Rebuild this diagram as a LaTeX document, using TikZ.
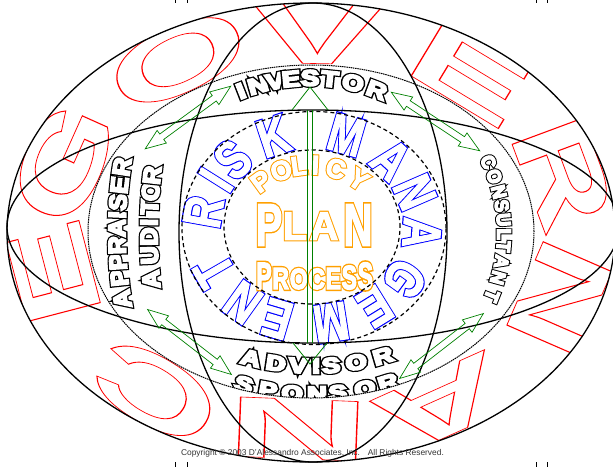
\documentclass[tikz,border=0pt]{standalone}
\usepackage{fontspec}
\setmainfont{Liberation Sans}
\usetikzlibrary{shapes.arrows,shapes.geometric}
\definecolor{gvred}{RGB}{255,0,0}
\definecolor{rmblue}{RGB}{0,0,255}
\definecolor{ppor}{RGB}{255,160,0}
\definecolor{arrgreen}{RGB}{0,128,0}
% thin outline
\newcommand\outl[2][0.6]{\special{pdf:literal direct 1 Tr #1 w}#2\special{pdf:literal direct 0 Tr}}
% heavy outline: wide stroke in the text colour, then a narrower white fill+stroke on top
\newcommand\hvy[3]{\rlap{\special{pdf:literal direct 1 Tr #1 w}#3\special{pdf:literal direct 0 Tr}}{\color{white}\special{pdf:literal direct 2 Tr #2 w}#3\special{pdf:literal direct 0 Tr}}}
% \ellchar[opts]{name}{cx}{cy}{rx}{ry}{t}{rot offset}{text}
\newcommand\ellchar[9][]{%
  \pgfmathsetmacro\gvX{#3+#5*cos(#7)}%
  \pgfmathsetmacro\gvY{#4-#6*sin(#7)}%
  \pgfmathsetmacro\gvR{atan2(#5*sin(#7),#6*cos(#7))+#8}%
  \node[rotate=\gvR,#1] (#2) at (\gvX,\gvY) {#9};}
\tikzset{
  ring/.style={draw, ellipse, inner sep=0pt, outer sep=0pt, line width=1.3pt},
  dotring/.style={draw, ellipse, inner sep=0pt, outer sep=0pt, line width=1pt, dash pattern=on 1.5pt off 0.7pt},
  dashring/.style={draw, ellipse, inner sep=0pt, outer sep=0pt, line width=1.2pt, dash pattern=on 4pt off 3pt},
  garrow/.style={double arrow, draw=arrgreen, line width=0.7pt, minimum height=106, inner xsep=0pt, inner ysep=3pt, double arrow head extend=4.5pt, double arrow tip angle=42},
  gline/.style={draw=arrgreen, line width=0.8pt},
  gvletter/.style={font=\fontsize{85}{85}\selectfont\bfseries, text=gvred, inner sep=0pt, anchor=base},
  rmletter/.style={font=\fontsize{54}{54}\selectfont\bfseries, text=rmblue, inner sep=0pt, anchor=center, xscale=0.78},
  polletter/.style={font=\fontsize{27}{27}\selectfont\bfseries, text=ppor, inner sep=0pt, anchor=center},
  planletter/.style={font=\fontsize{40}{40}\selectfont\bfseries, text=ppor, inner sep=0pt, anchor=center},
  procletter/.style={font=\fontsize{23}{23}\selectfont\bfseries, text=ppor, inner sep=0pt, anchor=base},
  invletter/.style={font=\fontsize{22}{22}\selectfont\bfseries, text=black, inner sep=0pt, anchor=center, xscale=1.25},
  advletter/.style={font=\fontsize{21}{21}\selectfont\bfseries, text=black, inner sep=0pt, anchor=center, xscale=1.3},
  sideletter/.style={font=\fontsize{24}{24}\selectfont\bfseries, text=black, inner sep=0pt, anchor=center, xscale=1.05},
  conletter/.style={font=\fontsize{19}{19}\selectfont\bfseries, text=black, inner sep=0pt, anchor=center, xscale=0.95},
  cropmark/.style={line width=0.6pt},
}
\begin{document}
\begin{tikzpicture}[x=1pt,y=-1pt]
\useasboundingbox (0,0) rectangle (613,467);
\clip (0,0) rectangle (613,467);
% ---- red GOVERNANCE ----
\begin{scope}
\clip (311,232.5) ellipse [x radius=304pt, y radius=229.5pt];
\foreach \ch/\ang [count=\i] in {G/161.5,O/122,V/88.5,E/51,R/15.5,N/-18,A/-59,N/-93,C/-128,E/-169}{
  \pgfmathsetmacro\gvXS{sqrt((2.23*sin(\ang))^2+(1.665*cos(\ang))^2)*1.0526}
  \pgfmathsetmacro\gvYS{(62+18*cos(\ang)^2)/61}
  \ellchar[gvletter,xscale=\gvXS,yscale=\gvYS]{gv\i}{311}{231.5}{225}{168}{\ang}{-90}{\outl[0.6]{\ch}}
}
\end{scope}
% ---- RISK MANAGEMENT ----
\foreach \ch/\ang [count=\i] in {R/171,I/151,S/136,K/110.5,M/71.8,A/44,N/21,A/-3.5,G/-32.5,E/-55,M/-80,E/-108.5,N/-129,T/-153}{
  \ellchar[rmletter]{rm\i}{312}{227}{110}{97}{\ang}{-90}{\hvy{3.4}{1.0}{\ch}}
}
% ---- POLICY / PLAN / PROCESS ----
\foreach \ch/\ang [count=\i] in {P/126,O/110.5,L/98,I/87,C/73,Y/56}{
  \ellchar[polletter]{pol\i}{311}{250}{85}{85}{\ang}{-90}{\hvy{3}{1}{\ch}}
}
\node[planletter, yscale=1.5] (plP) at (269,225) {\hvy{3}{1}{P}};
\node[planletter, yscale=1.0] (plL) at (295,226) {\hvy{3}{1}{L}};
\node[planletter, yscale=1.0] (plA) at (324,226) {\hvy{3}{1}{A}};
\node[planletter, yscale=1.5] (plN) at (358,225) {\hvy{3}{1}{N}};
\foreach \ch/\px/\sy [count=\i] in {P/264/1.64,R/280.7/1.33,O/298.7/1.27,C/316.7/1.27,E/333.3/1.33,S/349.3/1.45,S/365.3/1.64}{
  \node[procletter, yscale=\sy] (pr\i) at (\px,289) {\hvy{3}{1}{\ch}};
}
% ---- black outlined labels ----
\foreach \ch/\ang [count=\i] in {I/111.3,N/105.9,V/100.6,E/95.7,S/90,T/84,O/76.9,R/69.4}{
  \ellchar[invletter]{inv\i}{310}{268}{190}{190}{\ang}{-90}{\hvy{4.4}{2}{\ch}}
}
\foreach \ch/\ang [count=\i] in {C/23.2,O/18.3,N/13.2,S/8.7,U/4.2,L/-0.4,T/-4.3,A/-9.2,N/-14.4,T/-20.4}{
  \ellchar[conletter]{con\i}{311}{233}{193}{180}{\ang}{-90}{\hvy{3.6}{1.6}{\ch}}
}
\foreach \ch/\ang [count=\i] in {A/193.4,P/189.1,P/185.9,R/182.6,A/179.2,I/176.6,S/174.1,E/170.7,R/167}{
  \ellchar[sideletter]{app\i}{311}{232}{194}{290}{\ang}{-90}{\hvy{4.4}{2}{\ch}}
}
\foreach \ch/\ang [count=\i] in {A/189.4,U/184.6,D/180.9,I/178.1,T/175,O/171.9,R/168.7}{
  \ellchar[sideletter]{aud\i}{311}{232}{162}{290}{\ang}{-90}{\hvy{4.4}{2}{\ch}}
}
\foreach \ch/\ang [count=\i] in {A/-104.3,D/-98.5,V/-93.4,I/-89.3,S/-85.9,O/-80.1,R/-73.8}{
  \ellchar[advletter]{adv\i}{313}{115}{251}{251}{\ang}{90}{\hvy{4.4}{2}{\ch}}
}
\begin{scope}
\clip (311,231.5) ellipse [x radius=223pt, y radius=166.5pt];
\foreach \ch/\ang [count=\i] in {S/-105.8,P/-100.2,O/-94.7,N/-89.1,S/-84.4,O/-78.2,R/-72.8}{
  \ellchar[advletter]{spo\i}{313}{140}{254}{254}{\ang}{90}{\hvy{4.4}{2}{\ch}}
}
\end{scope}
% ---- ellipses ----
\node[ring, minimum width=608, minimum height=459] (outer) at (311,232.5) {};
\node[ring, minimum width=612, minimum height=233] (horiz) at (313,226.5) {};
\node[ring, minimum width=268, minimum height=459] (vert) at (313,232.5) {};
\node[dotring, minimum width=446, minimum height=333] (dotted) at (311,231.5) {};
\node[dashring, minimum width=264, minimum height=233] (dashout) at (314,228) {};
\node[dashring, minimum width=176, minimum height=154] (dashin) at (312,227) {};
% ---- green arrows ----
\node[garrow, rotate=36.2] (arTL) at (188,117.5) {};
\node[garrow, rotate=-33.5] (arTR) at (435.5,121.5) {};
\node[garrow, rotate=-37.8] (arBL) at (189.5,342) {};
\node[garrow, rotate=37.8] (arBR) at (441.5,346) {};
\coordinate (gTop) at (310,87);
\coordinate (gTL) at (292,110);
\coordinate (gTR) at (328,110);
\coordinate (gBot) at (310,364);
\coordinate (gBL) at (293,343);
\coordinate (gBR) at (327,343);
\coordinate (gS1t) at (307.5,110);
\coordinate (gS1b) at (307.5,343);
\coordinate (gS2t) at (312.5,110);
\coordinate (gS2b) at (312.5,343);
\draw[gline] (gTL) -- (gTop) -- (gTR);
\draw[gline] (gBL) -- (gBot) -- (gBR);
\draw[gline] (gS1t) -- (gS1b);
\draw[gline] (gS2t) -- (gS2b);
% ---- copyright ----
\node[font=\fontsize{8.4}{8.4}\selectfont, text=black!80, inner sep=0pt, anchor=base] (copy) at (312.5,455) {Copyright © 2003 D'Alessandro Associates, Inc. \ \ All Rights Reserved.};
% ---- crop marks ----
\foreach \mx in {175,187,536,547}{
  \draw[cropmark] (\mx,0) -- (\mx,3);
  \draw[cropmark] (\mx,462) -- (\mx,467);
}
\end{tikzpicture}
\end{document}
